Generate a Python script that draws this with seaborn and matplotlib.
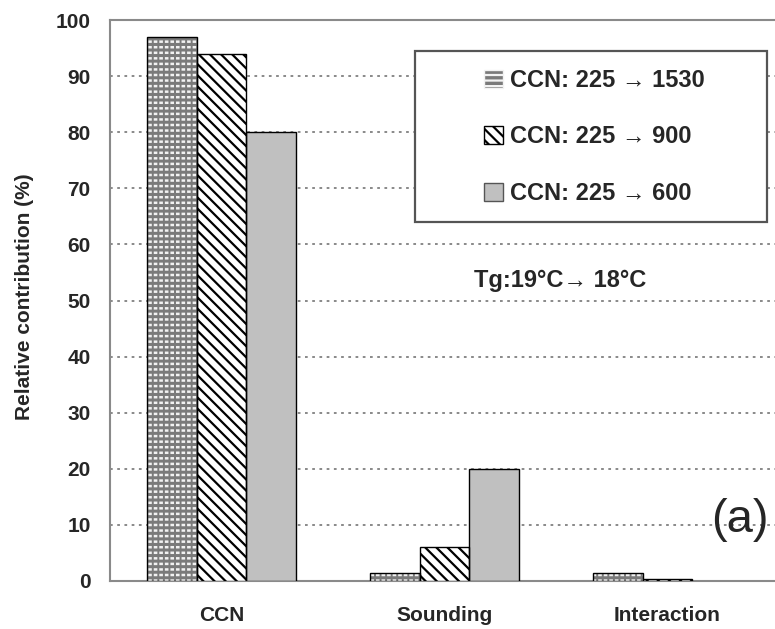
import matplotlib
matplotlib.use("Agg")
import matplotlib.pyplot as plt
from matplotlib.patches import Rectangle, Patch
import numpy as np
import pandas as pd
import seaborn as sns

# Relative contribution of each factor for three CCN perturbations
categories = ["CCN", "Sounding", "Interaction"]
scenarios = ["CCN: 225 \u2192 1530", "CCN: 225 \u2192 900", "CCN: 225 \u2192 600"]
ccn_1530 = [97.0, 1.5, 1.5]
ccn_900 = [94.0, 6.0, 0.3]
ccn_600 = [80.0, 20.0, 0.0]
y_ticks = [0, 10, 20, 30, 40, 50, 60, 70, 80, 90, 100]

df = pd.DataFrame({
    "category": categories * 3,
    "scenario": [s for s in scenarios for _ in categories],
    "value": ccn_1530 + ccn_900 + ccn_600,
})

sns.set_theme(style="white")
plt.rcParams["font.family"] = ["Liberation Sans", "DejaVu Sans"]
plt.rcParams["hatch.linewidth"] = 1.6

BRICK_FACE = "#7a7a7a"
BRICK_DASH = "#f2f2f2"
STRIPE = "black"
SOLID = "#c0c0c0"


def hatch_lw(patch, lw):
    if hasattr(patch, "set_hatch_linewidth"):
        patch.set_hatch_linewidth(lw)


fig = plt.figure(figsize=(7.75, 6.29), dpi=100)
ax = fig.add_axes([110 / 775, 48 / 629, 669 / 775, 561 / 629])

sns.barplot(data=df, x="category", y="value", hue="scenario",
            order=categories, hue_order=scenarios, width=0.665,
            palette=[BRICK_FACE, "white", SOLID], saturation=1,
            edgecolor="black", linewidth=1.0, legend=False, ax=ax, zorder=3)


def brick(ax_, xy, w, h, z):
    # grey ground with light dashes: light rows broken by grey verticals
    base = Rectangle(xy, w, h, facecolor=BRICK_FACE, edgecolor=BRICK_DASH,
                     hatch="---", linewidth=0, zorder=z)
    hatch_lw(base, 1.8)
    ax_.add_patch(base)
    cuts = Rectangle(xy, w, h, fill=False, edgecolor=BRICK_FACE,
                     hatch="|||", linewidth=0, zorder=z + 0.1)
    hatch_lw(cuts, 1.4)
    ax_.add_patch(cuts)


for i, cont in enumerate(ax.containers):
    for bar in cont:
        xy, w, h = bar.get_xy(), bar.get_width(), bar.get_height()
        if i == 0:
            bar.set_visible(False)
            if h > 0:
                brick(ax, xy, w, h, 3)
                ax.add_patch(Rectangle(xy, w, h, fill=False, edgecolor="black",
                                       linewidth=1.0, zorder=4))
        elif i == 1:
            bar.set_facecolor("white")
            bar.set_hatch("\\\\\\")
            bar.set_edgecolor(STRIPE)
            bar.set_linewidth(0)
            hatch_lw(bar, 1.6)
            ax.add_patch(Rectangle(xy, w, h, fill=False, edgecolor="black",
                                   linewidth=1.0, zorder=4))
        else:
            bar.set_facecolor(SOLID)
            if h <= 0:
                bar.set_visible(False)

ax.set_xlim(-0.5, 2.5)
ax.set_ylim(0, 100)
ax.set_yticks(y_ticks)
ax.set_yticklabels([str(t) for t in y_ticks], fontsize=15, fontweight="bold")
ax.set_xticks(range(len(categories)))
ax.set_xticklabels(categories, fontsize=15, fontweight="bold")
ax.set_xticks([0.5, 1.5], minor=True)
ax.tick_params(axis="x", which="major", length=0, pad=18)
ax.tick_params(axis="x", which="minor", length=5, width=1.2, color="#777777", direction="out")
ax.tick_params(axis="y", length=6, width=1.2, color="#777777", direction="out", pad=8)

ax.set_xlabel("")
ax.set_ylabel("Relative contribution (%)", fontsize=15, fontweight="bold")
ax.yaxis.set_label_coords(-76 / 669, 0.5 + (581 - 297 - 280.5) / 561)

for y in y_ticks[1:-1]:
    ax.axhline(y, color="#808080", linestyle=(0, (1.5, 2.5)), linewidth=1.3, zorder=1)

for side in ["left", "bottom", "top"]:
    ax.spines[side].set_visible(True)
    ax.spines[side].set_color("#8a8a8a")
    ax.spines[side].set_linewidth(1.5)
ax.spines["right"].set_visible(False)

# Legend frame and entries
box = Rectangle((415 / 775, 1 - 222 / 629), (767 - 415) / 775, (222 - 51) / 629,
                transform=fig.transFigure, facecolor="white", edgecolor="#555555",
                linewidth=1.6, zorder=5)
fig.add_artist(box)
h1 = Patch(facecolor=BRICK_FACE, edgecolor=BRICK_DASH, hatch="---")
h2 = Patch(facecolor="white", edgecolor="black", hatch="\\\\\\")
h3 = Patch(facecolor=SOLID, edgecolor="#555555")
leg = fig.legend([h1, h2, h3], scenarios, loc="center", bbox_to_anchor=(594 / 775, 1 - 137 / 629),
                 frameon=False, prop=dict(weight="bold", size=17), labelspacing=1.42,
                 handlelength=0.8, handleheight=0.8, handletextpad=0.3)
leg.set_zorder(6)

ax.text(560 / 775, 1 - 280 / 629, "Tg:19\u00b0C\u2192 18\u00b0C", transform=fig.transFigure,
        ha="center", va="center", fontsize=17, fontweight="bold")
ax.text(740 / 775, 1 - 520 / 629, "(a)", transform=fig.transFigure,
        ha="center", va="center", fontsize=34)

fig.savefig("out.png", dpi=100)
